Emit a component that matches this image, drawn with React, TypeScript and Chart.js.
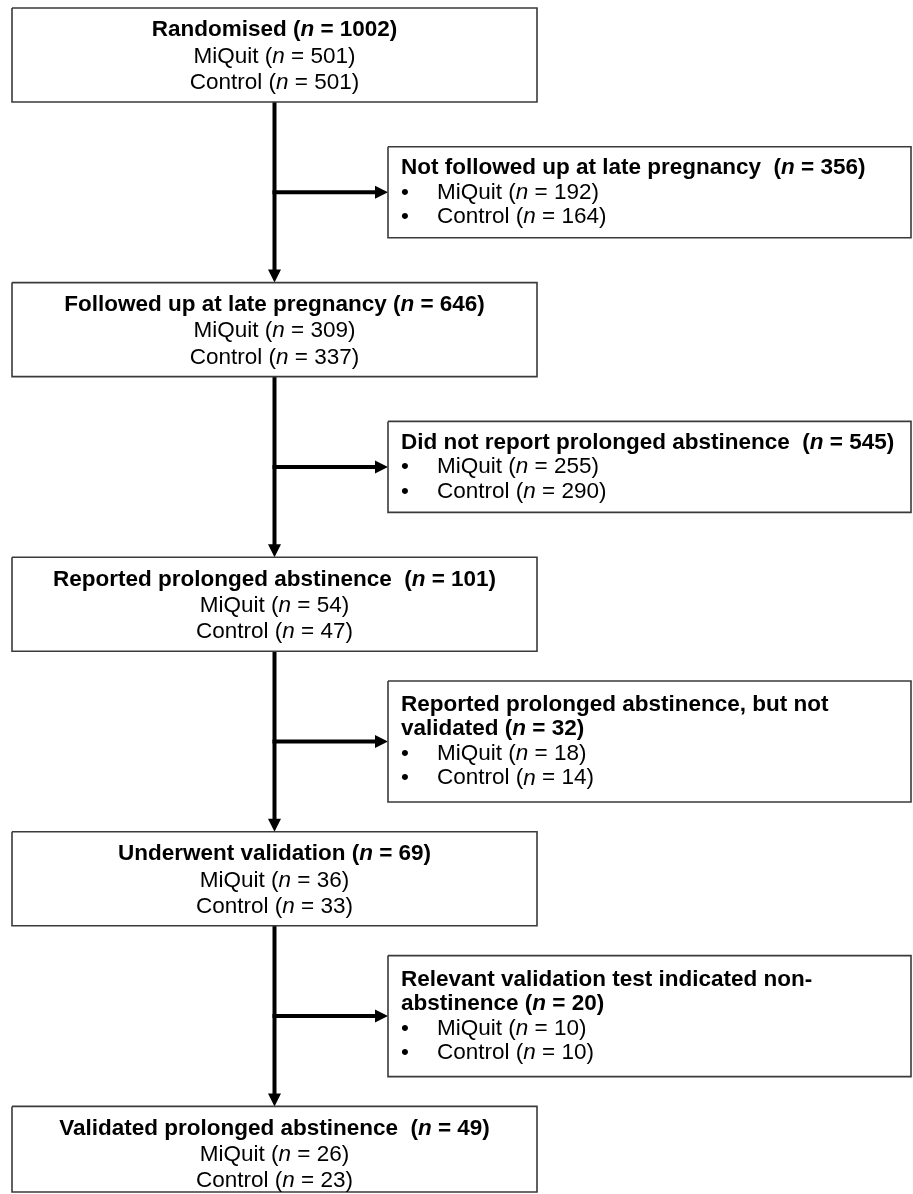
import React, { useEffect, useRef } from "react";
import { Chart, registerables } from "chart.js";
Chart.register(...registerables);

// ---------- data ----------
const mainTitles = [
  "Randomised ",
  "Followed up at late pregnancy ",
  "Reported prolonged abstinence  ",
  "Underwent validation ",
  "Validated prolonged abstinence  ",
];
const mainTotals = [1002, 646, 101, 69, 49];
const mainMiQuit = [501, 309, 54, 36, 26];
const mainControl = [501, 337, 47, 33, 23];

const sideTitleLines = [
  ["Not followed up at late pregnancy  "],
  ["Did not report prolonged abstinence  "],
  ["Reported prolonged abstinence, but not", "validated "],
  ["Relevant validation test indicated non-", "abstinence "],
];
const sideTotals = [356, 545, 32, 20];
const sideMiQuit = [192, 255, 18, 10];
const sideControl = [164, 290, 14, 10];

const groupLabels = ["MiQuit", "Control"];

// ---------- layout ----------
const W = 913;
const H = 1194;
const MAIN_X0 = 12;
const MAIN_X1 = 537;
const SIDE_X0 = 388;
const SIDE_X1 = 911;
const SPINE_X = (MAIN_X0 + MAIN_X1) / 2;
const MAIN_TOP0 = 8;
const MAIN_STEP = 274.6;
const MAIN_H = 94;
const MAIN_LINE = 26.3;
const MAIN_TEXT_SHIFT = 1.5;
const SIDE_LINE = 24.5;
const FS = 22.5;
const HEAD_LEN = 13;
const HEAD_HALF = 6.5;
const TEXT_X = 401;
const BULLET_TEXT_X = 437;
const FONT_FAMILY = '"Liberation Sans", Arial, sans-serif';

type Seg = { t: string; b?: boolean; i?: boolean };

const mainTop = (i: number) => MAIN_TOP0 + i * MAIN_STEP;
const mainBottom = (i: number) => Math.min(mainTop(i) + MAIN_H, H - 2);
const sideLines = (i: number) => sideTitleLines[i].length + 2;
const sideHeight = (i: number) => 91 + (sideLines(i) - 3) * 30;
const sideCenter = (i: number) => (mainBottom(i) + mainTop(i + 1)) / 2;

function rect(x0: number, y0: number, x1: number, y1: number) {
  return [
    { x: x0, y: y0 },
    { x: x1, y: y0 },
    { x: x1, y: y1 },
    { x: x0, y: y1 },
    { x: x0, y: y0 },
  ];
}

function buildDatasets() {
  const ds: any[] = [];
  const boxStyle = {
    borderColor: "#3a3a3a",
    borderWidth: 1.6,
    pointRadius: 0,
    fill: false,
    tension: 0,
    borderJoinStyle: "miter",
  };
  const shaftStyle = {
    borderColor: "#000",
    borderWidth: 4,
    pointRadius: 0,
    fill: false,
    tension: 0,
    borderCapStyle: "butt",
  };
  const headStyle = {
    borderColor: "#000",
    borderWidth: 0,
    backgroundColor: "#000",
    pointRadius: 0,
    fill: "shape",
    tension: 0,
  };
  mainTitles.forEach((_, i) => {
    ds.push({ ...boxStyle, data: rect(MAIN_X0, mainTop(i), MAIN_X1, mainBottom(i)) });
  });
  sideTitleLines.forEach((_, i) => {
    const c = sideCenter(i);
    const h = sideHeight(i);
    ds.push({ ...boxStyle, data: rect(SIDE_X0, c - h / 2, SIDE_X1, c + h / 2) });
    // vertical shaft
    const y0 = mainBottom(i);
    const y1 = mainTop(i + 1);
    ds.push({ ...shaftStyle, data: [{ x: SPINE_X, y: y0 }, { x: SPINE_X, y: y1 - HEAD_LEN + 1 }] });
    ds.push({
      ...headStyle,
      data: [
        { x: SPINE_X - HEAD_HALF, y: y1 - HEAD_LEN },
        { x: SPINE_X + HEAD_HALF, y: y1 - HEAD_LEN },
        { x: SPINE_X, y: y1 },
        { x: SPINE_X - HEAD_HALF, y: y1 - HEAD_LEN },
      ],
    });
    // horizontal branch
    ds.push({ ...shaftStyle, data: [{ x: SPINE_X - 2, y: c }, { x: SIDE_X0 - HEAD_LEN + 1, y: c }] });
    ds.push({
      ...headStyle,
      data: [
        { x: SIDE_X0 - HEAD_LEN, y: c - HEAD_HALF },
        { x: SIDE_X0 - HEAD_LEN, y: c + HEAD_HALF },
        { x: SIDE_X0, y: c },
        { x: SIDE_X0 - HEAD_LEN, y: c - HEAD_HALF },
      ],
    });
  });
  return ds;
}

function fontOf(s: Seg) {
  return `${s.i ? "italic " : ""}${s.b ? "bold " : ""}${FS}px ${FONT_FAMILY}`;
}

function drawRich(ctx: CanvasRenderingContext2D, segs: Seg[], x: number, y: number, center: boolean) {
  let total = 0;
  const widths = segs.map((s) => {
    ctx.font = fontOf(s);
    const w = ctx.measureText(s.t).width;
    total += w;
    return w;
  });
  let cx = center ? x - total / 2 : x;
  segs.forEach((s, k) => {
    ctx.font = fontOf(s);
    ctx.fillText(s.t, cx, y);
    cx += widths[k];
  });
}

const titleSegs = (prefix: string, n: number): Seg[] => [
  { t: prefix + "(", b: true },
  { t: "n", b: true, i: true },
  { t: ` = ${n})`, b: true },
];
const groupSegs = (label: string, n: number): Seg[] => [
  { t: `${label} (` },
  { t: "n", i: true },
  { t: ` = ${n})` },
];

const textPlugin = {
  id: "flowText",
  afterDatasetsDraw(chart: any) {
    const ctx: CanvasRenderingContext2D = chart.ctx;
    const xs = chart.scales.x;
    const ys = chart.scales.y;
    ctx.save();
    ctx.fillStyle = "#000";
    ctx.textBaseline = "middle";
    ctx.textAlign = "left";
    // main boxes
    mainTitles.forEach((title, i) => {
      const cy = mainTop(i) + MAIN_H / 2 + MAIN_TEXT_SHIFT;
      const cx = xs.getPixelForValue(SPINE_X);
      drawRich(ctx, titleSegs(title, mainTotals[i]), cx, ys.getPixelForValue(cy - MAIN_LINE), true);
      drawRich(ctx, groupSegs(groupLabels[0], mainMiQuit[i]), cx, ys.getPixelForValue(cy), true);
      drawRich(ctx, groupSegs(groupLabels[1], mainControl[i]), cx, ys.getPixelForValue(cy + MAIN_LINE), true);
    });
    // side boxes
    sideTitleLines.forEach((lines, i) => {
      const n = lines.length + 2;
      const c = sideCenter(i);
      const first = c - ((n - 1) / 2) * SIDE_LINE;
      lines.forEach((ln, k) => {
        const y = ys.getPixelForValue(first + k * SIDE_LINE);
        const x = xs.getPixelForValue(TEXT_X);
        if (k === lines.length - 1) drawRich(ctx, titleSegs(ln, sideTotals[i]), x, y, false);
        else drawRich(ctx, [{ t: ln, b: true }], x, y, false);
      });
      const vals = [sideMiQuit[i], sideControl[i]];
      vals.forEach((v, g) => {
        const y = ys.getPixelForValue(first + (lines.length + g) * SIDE_LINE);
        ctx.font = fontOf({ t: "" });
        ctx.fillText("\u2022", xs.getPixelForValue(TEXT_X), y);
        drawRich(ctx, groupSegs(groupLabels[g], v), xs.getPixelForValue(BULLET_TEXT_X), y, false);
      });
    });
    ctx.restore();
  },
};

export default function App() {
  const ref = useRef<HTMLCanvasElement | null>(null);
  useEffect(() => {
    if (!ref.current) return;
    const chart = new Chart(ref.current, {
      type: "line",
      data: { datasets: buildDatasets() },
      options: {
        animation: false,
        responsive: false,
        maintainAspectRatio: false,
        devicePixelRatio: 1,
        layout: { padding: 0 },
        parsing: true,
        scales: {
          x: { type: "linear", min: 0, max: W, display: false },
          y: { type: "linear", min: 0, max: H, reverse: true, display: false },
        },
        plugins: { legend: { display: false }, tooltip: { enabled: false } },
        elements: { point: { radius: 0 } },
      } as any,
      plugins: [textPlugin],
    });
    return () => chart.destroy();
  }, []);
  return (
    <div style={{ position: "absolute", left: 0, top: 0, width: W, height: H, background: "#fff" }}>
      <canvas ref={ref} width={W} height={H} style={{ display: "block" }} />
    </div>
  );
}
